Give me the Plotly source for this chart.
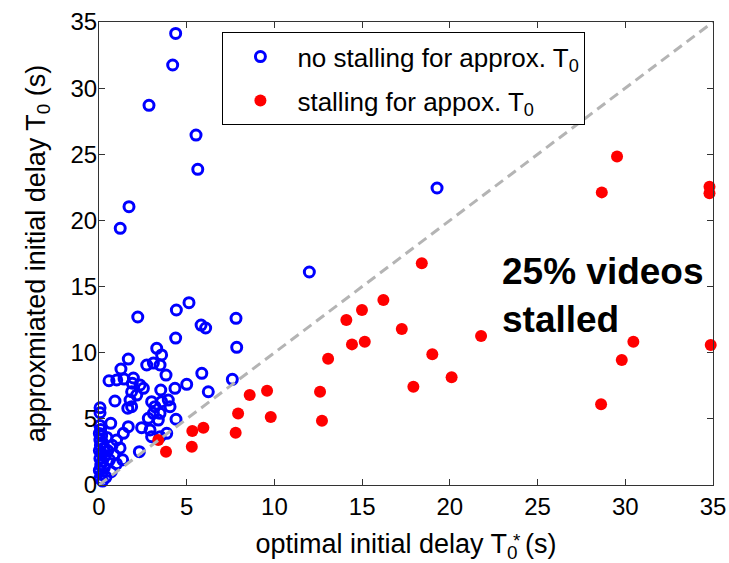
import plotly.graph_objects as go

# Videos whose approximated start-up delay caused no stalling (optimal T0*, approximated T0), seconds
no_stall_x = [4.37, 4.20, 2.85, 5.53, 5.63, 1.71, 1.21, 19.27, 11.99, 2.21, 4.41, 5.13, 7.81, 5.82,
              6.08, 4.37, 7.85, 3.29, 3.57, 1.67, 1.25, 2.72, 3.10, 3.48, 3.82, 0.57, 1.01, 1.43,
              1.96, 1.90, 2.34, 5.86, 5.00, 4.33, 3.52, 2.53, 1.86, 2.15, 6.23, 7.60, 0.91, 1.77,
              1.86, 1.64, 3.00, 3.19, 3.57, 3.95, 4.05, 3.10, 3.48, 3.38, 2.81, 4.39, 0.06, 0.06,
              0.67, 1.67, 1.39, 2.43, 2.91, 3.00, 3.48, 3.86, 2.30,
              0.05, 0.10, 0.02, 0.15, 0.05, 0.20, 0.08, 0.30, 0.02, 0.15, 0.35, 0.05, 0.20, 0.10,
              0.30, 0.02, 0.15, 0.05, 0.20, 0.45, 0.50, 0.60, 0.75, 0.85, 1.00, 1.20, 1.35, 0.70,
              0.40, 1.00]
no_stall_y = [34.14, 31.75, 28.70, 26.45, 23.86, 21.04, 19.40, 22.45, 16.10, 12.70, 13.23, 13.78,
              12.60, 12.09, 11.87, 11.11, 10.41, 10.33, 9.83, 9.52, 8.77, 9.07, 9.22, 9.07, 8.31,
              7.88, 7.94, 8.01, 8.09, 7.69, 7.56, 8.44, 7.61, 7.31, 7.18, 7.31, 7.05, 6.80, 7.05,
              7.99, 6.35, 6.42, 5.92, 5.80, 6.30, 5.92, 6.30, 6.42, 5.92, 5.42, 5.42, 4.91, 5.04,
              4.97, 5.84, 5.46, 4.66, 4.41, 3.91, 4.33, 4.16, 3.65, 3.65, 3.91, 2.52,
              4.50, 4.20, 3.90, 3.70, 3.40, 3.20, 3.00, 2.80, 2.60, 2.40, 2.20, 2.00, 1.80, 1.50,
              1.30, 1.10, 0.80, 0.50, 0.30, 3.60, 2.60, 1.90, 3.00, 2.30, 1.60, 2.80, 1.90, 1.00,
              0.60, 3.40]

# Videos that stalled with the approximated start-up delay
stall_x = [3.38, 3.82, 5.32, 5.95, 5.29, 7.79, 7.93, 18.40, 16.21, 14.99, 14.10, 17.26, 14.42,
           15.15, 13.06, 19.00, 20.10, 17.92, 8.59, 9.58, 12.60, 9.79, 12.71, 21.78, 30.46,
           29.80, 28.62, 34.87, 29.53, 28.66, 34.80, 34.80]
stall_y = [3.40, 2.52, 4.08, 4.33, 2.89, 3.95, 5.40, 16.76, 13.98, 13.23, 12.47, 11.79, 10.63,
           10.83, 9.55, 9.88, 8.14, 7.43, 6.80, 7.13, 7.05, 5.14, 4.86, 11.26, 10.83, 9.45,
           6.10, 10.58, 24.84, 22.12, 22.55, 22.05]

# y = x reference line
diag_xy = [0, 35]
tick_vals = [0, 5, 10, 15, 20, 25, 30, 35]

FONT = "Liberation Sans, Arial, Helvetica, sans-serif"

fig = go.Figure()
fig.add_trace(go.Scatter(
    x=no_stall_x, y=no_stall_y, mode="markers",
    name="no stalling for approx. T<sub>0</sub>", legendgroup="a",
    marker=dict(symbol="circle-open", size=10, color="#0000ff", line=dict(width=3, color="#0000ff")),
    cliponaxis=False,
))
fig.add_trace(go.Scatter(
    x=stall_x, y=stall_y, mode="markers",
    name="stalling for appox. T<sub>0</sub>", legendgroup="b",
    marker=dict(symbol="circle", size=12, color="#ff0000"),
    cliponaxis=False,
))
fig.add_trace(go.Scatter(
    x=diag_xy, y=diag_xy, mode="lines", showlegend=False, hoverinfo="skip",
    line=dict(color="#b4b4b4", width=3, dash="10px,6px"),
))

axis_common = dict(
    range=[0, 35], tickvals=tick_vals, ticks="inside", ticklen=6, tickcolor="#333333",
    showline=True, linecolor="#333333", linewidth=1, mirror="ticks",
    showgrid=False, zeroline=False, automargin=False,
    tickfont=dict(family=FONT, size=24, color="black"),
)

fig.update_xaxes(**axis_common,
                 title=dict(text="optimal initial delay T<sub>0</sub> (s)",
                            font=dict(family=FONT, size=27, color="black"), standoff=15))
fig.update_yaxes(**axis_common, ticklabelstandoff=-4,
                 title=dict(text="approxmiated initial delay T<sub>0</sub> (s)",
                            font=dict(family=FONT, size=27, color="black"), standoff=17))

fig.add_annotation(text="*", xref="paper", yref="paper", x=0.69, y=-0.147,
                   showarrow=False, font=dict(family=FONT, size=19, color="black"))
fig.add_annotation(text="<b>25% videos<br>stalled</b>", xref="x", yref="y",
                   x=22.86, y=14.3, xanchor="left", yanchor="middle", align="left",
                   showarrow=False, font=dict(family=FONT, size=37, color="black"))

fig.update_layout(
    width=729, height=563,
    margin=dict(l=99, r=16, t=22, b=78),
    plot_bgcolor="white", paper_bgcolor="white",
    legend=dict(x=0.201, y=0.978, xanchor="left", yanchor="top",
                bgcolor="white", bordercolor="black", borderwidth=1,
                font=dict(family=FONT, size=26, color="black"),
                itemwidth=64, tracegroupgap=7),
    showlegend=True,
)

fig.write_html("out.html")
